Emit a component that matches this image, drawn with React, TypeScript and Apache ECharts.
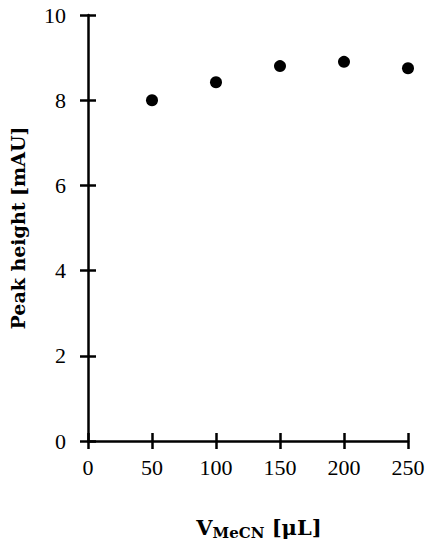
import React, { useEffect, useRef } from "react";
import * as echarts from "echarts";

const xValues = [50, 100, 150, 200, 250];
const peakHeights = [8.0, 8.42, 8.8, 8.9, 8.75];
const xTicks = [0, 50, 100, 150, 200, 250];
const yTicks = [0, 2, 4, 6, 8, 10];

const FONT = "'Liberation Serif', 'DejaVu Serif', serif";
const TITLE_FONT = "'DejaVu Serif', 'Liberation Serif', serif";

export default function App() {
  const ref = useRef<HTMLDivElement>(null);
  useEffect(() => {
    if (!ref.current) return;
    const chart = echarts.init(ref.current, undefined, { renderer: "svg" });
    const lineStyle = { color: "#000", width: 2.5 };
    const baseX = {
      type: "value" as const,
      min: xTicks[0],
      max: xTicks[xTicks.length - 1],
      interval: 50,
      splitLine: { show: false },
    };
    const baseY = {
      type: "value" as const,
      min: yTicks[0],
      max: yTicks[yTicks.length - 1],
      interval: 2,
      splitLine: { show: false },
    };
    chart.setOption({
      animation: false,
      backgroundColor: "#fff",
      textStyle: { fontFamily: FONT },
      grid: { left: 88, right: 26, top: 15, bottom: 109, containLabel: false },
      xAxis: [
        {
          ...baseX,
          axisLine: { show: true, lineStyle },
          axisTick: { show: true, inside: false, length: 8, lineStyle },
          axisLabel: { color: "#000", fontSize: 22, fontFamily: FONT, margin: 15 },
          name: "{v|V}{sub|MeCN}{v| [μL]}",
          nameLocation: "middle",
          nameGap: 74,
          nameTextStyle: {
            padding: [0, 0, 0, 22],
            rich: {
              v: { fontSize: 21, fontWeight: "bold", color: "#000", fontFamily: TITLE_FONT },
              sub: {
                fontSize: 15,
                fontWeight: "bold",
                color: "#000",
                fontFamily: TITLE_FONT,
                padding: [10, 0, 0, 0],
              },
            },
          },
        },
        {
          ...baseX,
          position: "bottom",
          axisLine: { show: false },
          axisTick: { show: true, inside: true, length: 8, lineStyle },
          axisLabel: { show: false },
        },
      ],
      yAxis: [
        {
          ...baseY,
          axisLine: { show: true, lineStyle },
          axisTick: { show: true, inside: false, length: 8, lineStyle },
          axisLabel: { color: "#000", fontSize: 22, fontFamily: FONT, margin: 22 },
          name: "Peak height [mAU]",
          nameLocation: "middle",
          nameGap: 61,
          nameTextStyle: { fontSize: 19, fontWeight: "bold", color: "#000", fontFamily: TITLE_FONT },
        },
        {
          ...baseY,
          position: "left",
          axisLine: { show: false },
          axisTick: { show: true, inside: true, length: 8, lineStyle },
          axisLabel: { show: false },
        },
      ],
      series: [
        {
          type: "scatter",
          data: xValues.map((x, i) => [x, peakHeights[i]]),
          symbol: "circle",
          symbolSize: 12,
          itemStyle: { color: "#000", opacity: 1 },
        },
      ],
    });
    return () => chart.dispose();
  }, []);
  return <div ref={ref} style={{ width: 434, height: 550, position: "absolute", left: 0, top: 0 }} />;
}
